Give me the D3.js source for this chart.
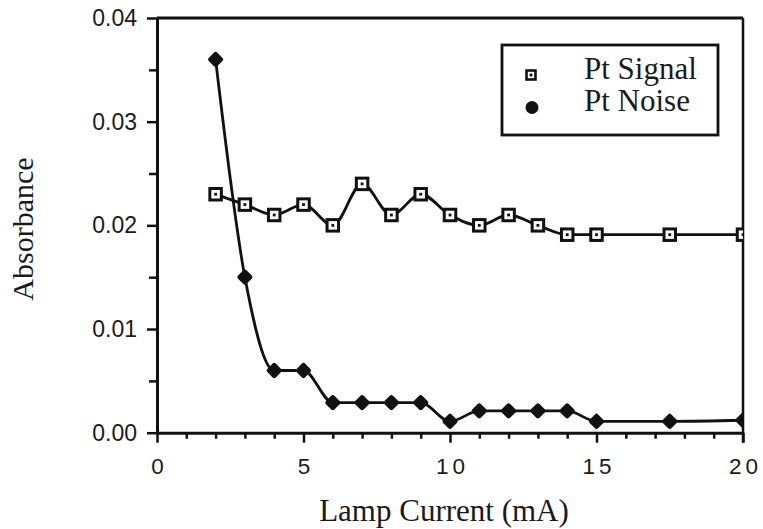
<!DOCTYPE html>
<html>
<head>
<meta charset="utf-8">
<script src="https://cdn.jsdelivr.net/npm/d3@7"></script>
<style>
  html, body { margin: 0; padding: 0; background: #fff; }
  svg { display: block; }
</style>
</head>
<body>
<svg id="chart" width="763" height="529"></svg>
<script>
// Lamp current (mA) at which each reading was taken
const current = [2, 3, 4, 5, 6, 7, 8, 9, 10, 11, 12, 13, 14, 15, 17.5, 20];
// Pt signal absorbance
const signal = [0.023, 0.022, 0.021, 0.022, 0.020, 0.024, 0.021, 0.023, 0.021, 0.020, 0.021, 0.020, 0.0191, 0.0191, 0.0191, 0.0191];
// Pt noise absorbance
const noise = [0.036, 0.015, 0.006, 0.006, 0.0029, 0.0029, 0.0029, 0.0029, 0.0011, 0.0021, 0.0021, 0.0021, 0.0021, 0.0011, 0.0011, 0.0012];

const xMajor = [0, 5, 10, 15, 20];
const xMinor = [1, 2, 3, 4, 6, 7, 8, 9, 11, 12, 13, 14, 16, 17, 18, 19];
const yMajor = [0, 0.01, 0.02, 0.03, 0.04];
const yMinor = [0.005, 0.015, 0.025, 0.035];
const legendLabels = ["Pt Signal", "Pt Noise"];

const svg = d3.select("#chart");
const plotLeft = 157, plotRight = 743, plotTop = 18, plotBottom = 432.7;

const x = d3.scaleLinear().domain([0, 20]).range([plotLeft, plotRight]);
const y = d3.scaleLinear().domain([0, 0.04]).range([plotBottom, plotTop]);

const sans = "'Liberation Sans', Arial, Helvetica, sans-serif";
const serif = "'Liberation Serif', 'Times New Roman', Times, serif";
const ink = "#111";

// clip region for the plotted data
svg.append("defs").append("clipPath").attr("id", "plotClip")
  .append("rect").attr("x", plotLeft).attr("y", plotTop - 20)
  .attr("width", plotRight - plotLeft).attr("height", plotBottom - plotTop + 40);

// minor ticks
svg.append("g").attr("transform", `translate(0,${plotBottom})`)
  .call(d3.axisBottom(x).tickValues(xMinor).tickSize(6).tickFormat(""))
  .call(g => g.select(".domain").remove())
  .call(g => g.selectAll("line").attr("stroke", ink).attr("stroke-width", 2.5));
svg.append("g").attr("transform", `translate(${plotLeft},0)`)
  .call(d3.axisLeft(y).tickValues(yMinor).tickSize(8).tickFormat(""))
  .call(g => g.select(".domain").remove())
  .call(g => g.selectAll("line").attr("stroke", ink).attr("stroke-width", 2.5));

// major x axis
svg.append("g").attr("transform", `translate(0,${plotBottom})`)
  .call(d3.axisBottom(x).tickValues(xMajor).tickSize(10).tickSizeOuter(0).tickPadding(15)
    .tickFormat(d3.format("d")))
  .call(g => g.select(".domain").attr("stroke", ink).attr("stroke-width", 3))
  .call(g => g.selectAll("line").attr("stroke", ink).attr("stroke-width", 2.5))
  .call(g => g.selectAll("text").attr("fill", "#1a1a1a").attr("font-family", sans)
    .attr("font-size", 22.5).style("letter-spacing", d => d >= 10 ? "4px" : "0px")
    .attr("dx", d => d >= 10 ? "2px" : "0px"));

// major y axis
svg.append("g").attr("transform", `translate(${plotLeft},0)`)
  .call(d3.axisLeft(y).tickValues(yMajor).tickSize(10).tickSizeOuter(0).tickPadding(10)
    .tickFormat(d3.format(".2f")))
  .call(g => g.select(".domain").attr("stroke", ink).attr("stroke-width", 3))
  .call(g => g.selectAll("line").attr("stroke", ink).attr("stroke-width", 2.5))
  .call(g => g.selectAll("text").attr("fill", "#1a1a1a").attr("font-family", sans)
    .attr("font-size", 23));

// frame: top and right edges
svg.append("line").attr("x1", plotLeft).attr("x2", plotRight).attr("y1", plotTop).attr("y2", plotTop)
  .attr("stroke", ink).attr("stroke-width", 2.8);
svg.append("line").attr("x1", plotRight).attr("x2", plotRight).attr("y1", plotTop).attr("y2", plotBottom + 10)
  .attr("stroke", ink).attr("stroke-width", 2.5);

// axis titles
svg.append("text").attr("x", 444).attr("y", 521).attr("text-anchor", "middle")
  .attr("font-family", serif).attr("font-size", 31).attr("fill", "#1a1a1a")
  .text("Lamp Current (mA)");
svg.append("text").attr("transform", "translate(33,229) rotate(-90)")
  .attr("text-anchor", "middle")
  .attr("font-family", serif).attr("font-size", 30).attr("fill", "#1a1a1a")
  .text("Absorbance");

const plot = svg.append("g").attr("clip-path", "url(#plotClip)");
const line = d3.line().curve(d3.curveMonotoneX);

const sigPts = current.map((c, i) => [x(c), y(signal[i])]);
const noisePts = current.map((c, i) => [x(c), y(noise[i])]);

plot.append("path").attr("d", line(sigPts)).attr("fill", "none")
  .attr("stroke", ink).attr("stroke-width", 2.8);
plot.append("path").attr("d", line(noisePts)).attr("fill", "none")
  .attr("stroke", ink).attr("stroke-width", 2.8);

// open squares with a centre dot
function drawSquare(g, cx, cy, s, w) {
  g.append("rect").attr("x", cx - s / 2).attr("y", cy - s / 2)
    .attr("width", s).attr("height", s)
    .attr("fill", "#fff").attr("stroke", ink).attr("stroke-width", w);
  g.append("rect").attr("x", cx - 1.4).attr("y", cy - 1.4)
    .attr("width", 2.8).attr("height", 2.8).attr("fill", ink);
}
sigPts.forEach(p => drawSquare(plot, p[0], p[1], 11.5, 3));

// filled rounded diamonds
const diamond = d3.symbol().type(d3.symbolSquare).size(56);
plot.selectAll("path.noise").data(noisePts).join("path").attr("class", "noise")
  .attr("d", diamond)
  .attr("transform", d => `translate(${d[0]},${d[1]}) rotate(45)`)
  .attr("fill", ink).attr("stroke", ink).attr("stroke-width", 4.5)
  .attr("stroke-linejoin", "round");

// legend
const lg = svg.append("g");
lg.append("rect").attr("x", 502).attr("y", 45).attr("width", 216).attr("height", 90)
  .attr("fill", "#fff").attr("stroke", ink).attr("stroke-width", 2.8);
drawSquare(lg, 531, 75, 9, 2.6);
lg.append("circle").attr("cx", 532).attr("cy", 107.5).attr("r", 6.5).attr("fill", ink);
lg.selectAll("text.lab").data(legendLabels).join("text").attr("class", "lab")
  .attr("x", 584).attr("y", (d, i) => 79 + i * 32)
  .attr("font-family", serif).attr("font-size", 31).attr("fill", "#1a1a1a")
  .text(d => d);
</script>
</body>
</html>
